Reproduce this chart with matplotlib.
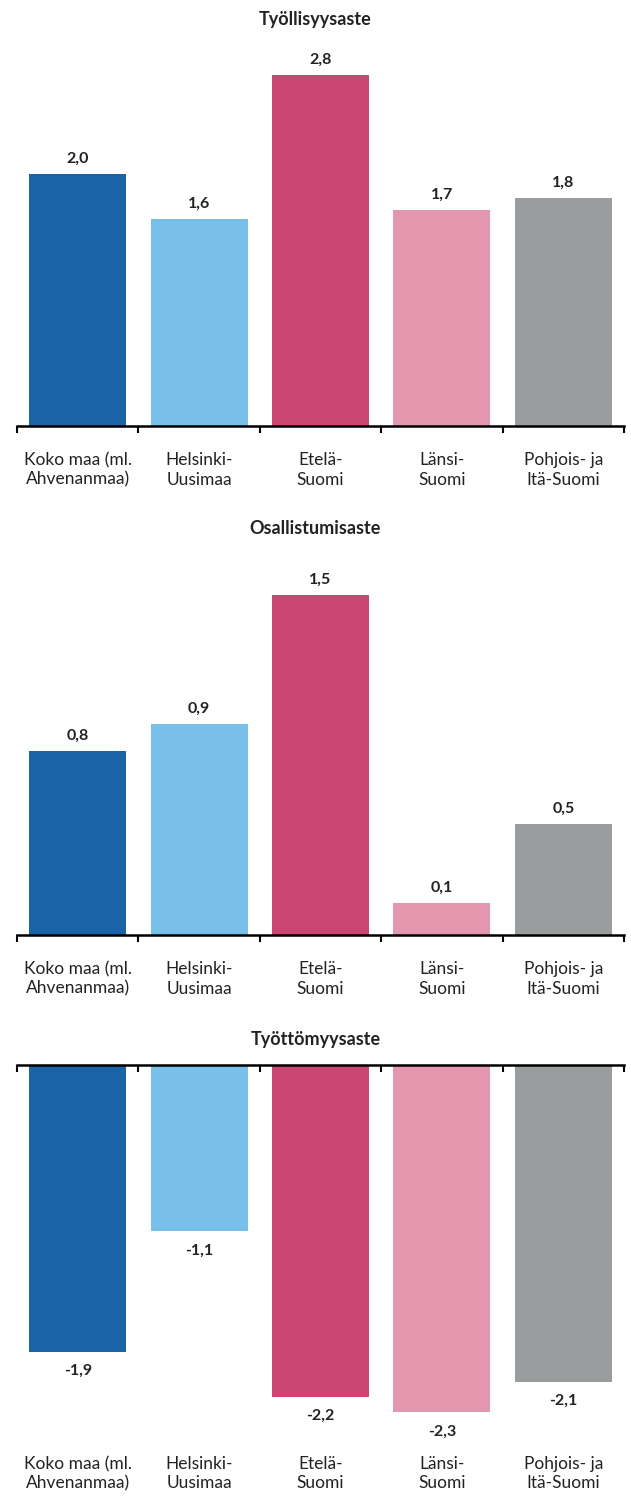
import matplotlib
matplotlib.use("Agg")
import matplotlib.pyplot as plt
import numpy as np

plt.rcParams['font.family'] = ['Lato', 'DejaVu Sans']

# Alueet ja värit
alueet = ['Koko maa (ml.\nAhvenanmaa)', 'Helsinki-\nUusimaa', 'Etelä-\nSuomi',
          'Länsi-\nSuomi', 'Pohjois- ja\nItä-Suomi']
varit = ['#1a63a6', '#78bfea', '#cc4674', '#e397ae', '#9a9d9e']

# Muutokset, %-yksikköä (pylväiden korkeudet kuvasta, tarrat pyöristettyinä)
tyollisyys = [2.01, 1.65, 2.8, 1.72, 1.82]
tyollisyys_tarrat = ['2,0', '1,6', '2,8', '1,7', '1,8']
osallistuminen = [0.81, 0.93, 1.5, 0.14, 0.49]
osallistuminen_tarrat = ['0,8', '0,9', '1,5', '0,1', '0,5']
tyottomyys = [-1.9, -1.1, -2.2, -2.3, -2.1]
tyottomyys_tarrat = ['-1,9', '-1,1', '-2,2', '-2,3', '-2,1']

W, H = 631, 1506
fig = plt.figure(figsize=(W / 100, H / 100), dpi=100)


def px_axes(top, bottom):
    # akselit pikseleinä (ylhäältä mitattuna)
    return fig.add_axes([17 / W, 1 - bottom / H, 607 / W, (bottom - top) / H])


def piirra(ax, arvot, tarrat, otsikko, title_y, ylim, negatiivinen=False):
    x = np.arange(len(alueet))
    ax.bar(x, arvot, width=0.8, color=varit)
    ax.set_xlim(-0.5, len(alueet) - 0.5)
    ax.set_ylim(*ylim)
    for s in ['left', 'right']:
        ax.spines[s].set_visible(False)
    ax.set_yticks([])
    ax.set_xticks(x)
    ax.set_xticklabels(alueet, fontsize=12.5, color='#222222', linespacing=1.25)
    ax.set_xticks(np.arange(-0.5, len(alueet)), minor=True)
    if negatiivinen:
        ax.spines['bottom'].set_visible(False)
        ax.spines['top'].set_linewidth(1.8)
        ax.tick_params(axis='x', which='major', length=0, pad=10)
        ax.tick_params(axis='x', which='minor', top=True, bottom=False,
                       direction='in', length=5, width=1.5)
    else:
        ax.spines['top'].set_visible(False)
        ax.spines['bottom'].set_linewidth(1.8)
        ax.tick_params(axis='x', which='major', length=0, pad=19)
        ax.tick_params(axis='x', which='minor', direction='out', length=5,
                       width=1.5)
    for xi, v, t in zip(x, arvot, tarrat):
        if v >= 0:
            ax.annotate(t, (xi, v), xytext=(0, 6), textcoords='offset points',
                        ha='center', va='bottom', fontsize=11.5, fontweight='bold',
                        color='#222222')
        else:
            ax.annotate(t, (xi, v), xytext=(0, -9), textcoords='offset points',
                        ha='center', va='top', fontsize=11.5, fontweight='bold',
                        color='#222222')
    fig.text(0.5, 1 - title_y / H, otsikko, ha='center', va='center',
             fontsize=13, fontweight='bold', color='#222222')


ax1 = px_axes(50, 426)
piirra(ax1, tyollisyys, tyollisyys_tarrat, 'Työllisyysaste', 20, (0, 3.0))

ax2 = px_axes(561, 935)
piirra(ax2, osallistuminen, osallistuminen_tarrat, 'Osallistumisaste', 529,
       (0, 1.65))

ax3 = px_axes(1065, 1442)
piirra(ax3, tyottomyys, tyottomyys_tarrat, 'Työttömyysaste', 1040, (-2.5, 0),
       negatiivinen=True)

fig.savefig('out.png', dpi=100)
